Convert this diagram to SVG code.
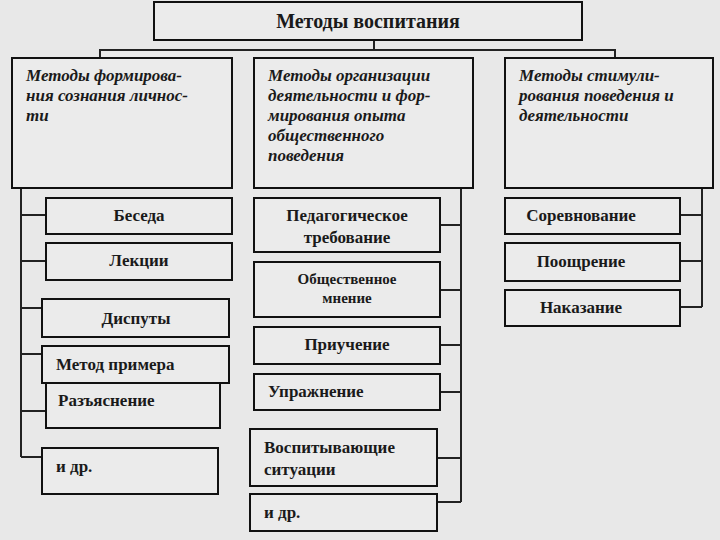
<svg xmlns="http://www.w3.org/2000/svg" width="720" height="540" viewBox="0 0 720 540">
<style>
rect{fill:#ebebeb;stroke:#111;stroke-width:2}
.c{fill:none;stroke:#222;stroke-width:2}
text{font-family:'Liberation Serif','Times New Roman','DejaVu Serif',serif;fill:#1a1a1a}
.h{font-style:italic;font-weight:bold;font-size:17px}
.b{font-weight:bold;font-size:17px}
.t{font-weight:bold;font-size:20px}
</style>
<rect x="0" y="0" width="720" height="540" style="fill:#e8e8e8;stroke:none"/>
<g id="connectors">
<path class="c" d="M374 40V50M100 58V50H615V58"/>
<path class="c" d="M21 188V457M21 215H46M21 261H46M21 308H42M21 354H42M21 411H46M21 457H42"/>
<path class="c" d="M461 188V502M440 225H461M440 290H461M440 345H461M440 392H461M437 458H461M437 502H461"/>
<path class="c" d="M702 188V307M680 215H702M680 261H702M680 307H702"/>
</g>
<g id="root"><rect x="154" y="2" width="428" height="38"/><text class="t" x="368" y="28" text-anchor="middle">Методы воспитания</text></g>
<g id="h1"><rect x="12" y="58" width="220" height="130"/><text class="h" x="26" y="81">Методы формирова-</text><text class="h" x="26" y="101">ния сознания личнос-</text><text class="h" x="26" y="121">ти</text></g>
<g id="h2"><rect x="254" y="58" width="219" height="130"/><text class="h" x="268" y="81">Методы организации</text><text class="h" x="268" y="101">деятельности и фор-</text><text class="h" x="268" y="121">мирования опыта</text><text class="h" x="268" y="141">общественного</text><text class="h" x="268" y="161">поведения</text></g>
<g id="h3"><rect x="505" y="58" width="208" height="130"/><text class="h" x="519" y="81">Методы стимули-</text><text class="h" x="519" y="101">рования поведения и</text><text class="h" x="519" y="121">деятельности</text></g>
<g id="l1"><rect x="46" y="198" width="186" height="36"/><text class="b" x="139" y="221" text-anchor="middle">Беседа</text></g>
<g id="l2"><rect x="46" y="243" width="186" height="37"/><text class="b" x="139" y="266" text-anchor="middle">Лекции</text></g>
<g id="l3"><rect x="42" y="299" width="187" height="38"/><text class="b" x="136" y="324" text-anchor="middle">Диспуты</text></g>
<g id="l5"><rect x="46" y="383" width="174" height="45"/><text class="b" x="58" y="406">Разъяснение</text></g>
<g id="l4"><rect x="42" y="346" width="187" height="37"/><text class="b" x="56" y="370">Метод примера</text></g>
<g id="l6"><rect x="42" y="448" width="176" height="46"/><text class="b" x="56" y="472">и др.</text></g>
<g id="m1"><rect x="254" y="198" width="186" height="54"/><text class="b" x="347" y="221" text-anchor="middle">Педагогическое</text><text class="b" x="347" y="243" text-anchor="middle">требование</text></g>
<g id="m2"><rect x="254" y="262" width="186" height="55"/><text class="b" x="347" y="284" text-anchor="middle" style="font-size:15px">Общественное</text><text class="b" x="347" y="303" text-anchor="middle" style="font-size:15px">мнение</text></g>
<g id="m3"><rect x="254" y="327" width="186" height="37"/><text class="b" x="347" y="350" text-anchor="middle">Приучение</text></g>
<g id="m4"><rect x="254" y="374" width="186" height="36"/><text class="b" x="268" y="397">Упражнение</text></g>
<g id="m5"><rect x="250" y="429" width="187" height="57"/><text class="b" x="264" y="453">Воспитывающие</text><text class="b" x="264" y="475">ситуации</text></g>
<g id="m6"><rect x="250" y="494" width="187" height="37"/><text class="b" x="264" y="518">и др.</text></g>
<g id="r1"><rect x="505" y="198" width="175" height="36"/><text class="b" x="581" y="221" text-anchor="middle">Соревнование</text></g>
<g id="r2"><rect x="505" y="243" width="175" height="38"/><text class="b" x="581" y="267" text-anchor="middle">Поощрение</text></g>
<g id="r3"><rect x="505" y="290" width="175" height="36"/><text class="b" x="581" y="313" text-anchor="middle">Наказание</text></g>
</svg>
